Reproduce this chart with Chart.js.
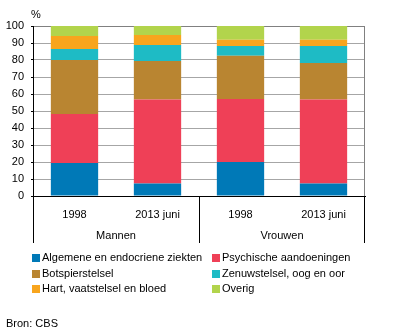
<!DOCTYPE html>
<html>
<head>
<meta charset="utf-8">
<script src="https://cdn.jsdelivr.net/npm/chart.js@4"></script>
<style>
  body { margin: 0; background: #fff; }
  canvas { display: block; }
</style>
</head>
<body>
<canvas id="chart" width="396" height="333"></canvas>
<script>
const years = ["1998", "2013 juni", "1998", "2013 juni"];
const groups = ["Mannen", "Vrouwen"];

const algemeen = [19.4, 7.3, 20.0, 7.3];
const psychisch = [28.8, 49.4, 37.1, 49.4];
const botspier = [31.8, 22.7, 25.4, 21.5];
const zenuw = [6.5, 9.4, 5.7, 10.0];
const hart = [7.6, 5.9, 3.7, 3.7];
const overig = [5.9, 5.3, 8.1, 8.1];

const yTicks = [0, 10, 20, 30, 40, 50, 60, 70, 80, 90, 100];

const FONT = "Liberation Sans, Arial, sans-serif";

const series = [
  { label: "Algemene en endocriene ziekten", data: algemeen, color: "#0079b7" },
  { label: "Psychische aandoeningen", data: psychisch, color: "#ef4057" },
  { label: "Botspierstelsel", data: botspier, color: "#b98531" },
  { label: "Zenuwstelsel, oog en oor", data: zenuw, color: "#1ebbc5" },
  { label: "Hart, vaatstelsel en bloed", data: hart, color: "#f8a51d" },
  { label: "Overig", data: overig, color: "#b2d44c" },
];

// extra drawing: right border, group axis, legend, source line
const extras = {
  id: "extras",
  afterDraw(chart) {
    const c = chart.ctx;
    const a = chart.chartArea;
    c.save();

    c.strokeStyle = "#808080";
    c.lineWidth = 1;
    c.beginPath();
    c.moveTo(Math.round(a.right) - 0.5, a.top);
    c.lineTo(Math.round(a.right) - 0.5, a.bottom);
    c.stroke();

    // group separators under the axis
    const step = (a.right - a.left) / years.length;
    c.strokeStyle = "#000";
    c.beginPath();
    for (let i = 0; i <= groups.length; i++) {
      const px = Math.round(a.left + i * step * 2) + 0.5 - (i === groups.length ? 1 : 0);
      c.moveTo(px, a.bottom);
      c.lineTo(px, 243);
    }
    c.stroke();

    c.fillStyle = "#000";
    c.font = "11px " + FONT;
    c.textAlign = "center";
    c.textBaseline = "middle";
    groups.forEach((g, i) => {
      c.fillText(g, a.left + step * (2 * i + 1), 236);
    });

    // unit label
    c.textAlign = "left";
    c.fillText("%", 31, 15);

    // legend in two columns
    const cols = [32, 212];
    const rows = [258, 274, 289];
    chart.data.datasets.forEach((ds, i) => {
      const lx = cols[i % 2];
      const ly = rows[Math.floor(i / 2)];
      c.fillStyle = ds.backgroundColor;
      c.fillRect(lx, ly - 4, 8, 8);
      c.fillStyle = "#000";
      c.fillText(ds.label, lx + 10, ly);
    });

    c.fillText("Bron: CBS", 6, 324);
    c.restore();
  },
};

new Chart(document.getElementById("chart"), {
  type: "bar",
  data: {
    labels: years,
    datasets: series.map((s) => ({
      label: s.label,
      data: s.data,
      backgroundColor: s.color,
      borderWidth: 0,
      barPercentage: 0.57,
      categoryPercentage: 1,
    })),
  },
  plugins: [extras],
  options: {
    responsive: false,
    animation: false,
    devicePixelRatio: 1,
    layout: { padding: { left: 0, right: 31, top: 26, bottom: 0 } },
    plugins: {
      legend: { display: false },
      tooltip: { enabled: false },
    },
    scales: {
      x: {
        stacked: true,
        grid: { display: false },
        border: { display: true, color: "#000", width: 1 },
        ticks: { color: "#000", font: { family: FONT, size: 11 }, padding: 4, maxRotation: 0 },
        afterFit(scale) { scale.height = 137; },
      },
      y: {
        stacked: true,
        min: 0,
        max: 100,
        afterBuildTicks(scale) { scale.ticks = yTicks.map((v) => ({ value: v })); },
        grid: {
          color: (ctx) => (ctx.tick && ctx.tick.value === 100 ? "#808080" : "#a6a6a6"),
          tickColor: "#000",
          tickLength: 2,
        },
        border: { display: true, color: "#000", width: 1 },
        ticks: { color: "#000", font: { family: FONT, size: 11 }, padding: 7 },
        afterFit(scale) { scale.width = 33; },
      },
    },
  },
});
</script>
</body>
</html>
